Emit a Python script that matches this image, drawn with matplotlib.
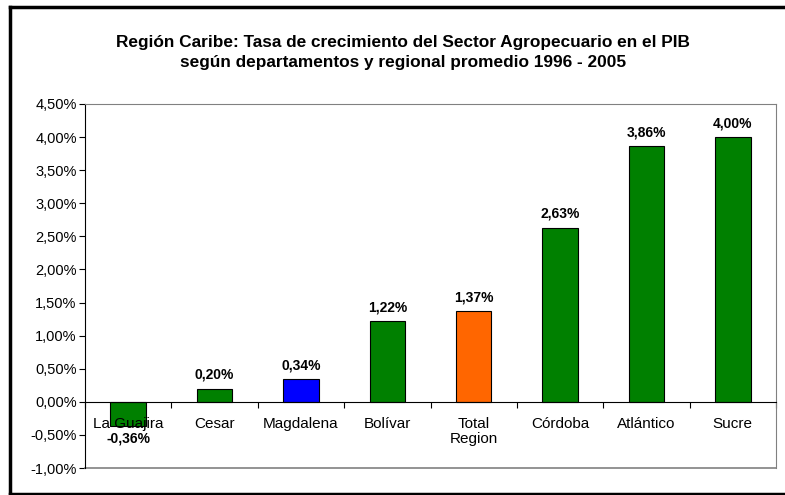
import matplotlib.pyplot as plt
import matplotlib.lines as mlines

plt.rcParams['font.family'] = ['Liberation Sans', 'DejaVu Sans']

# Datos del grafico
departamentos = ["La Guajira", "Cesar", "Magdalena", "Bolívar", "Total\nRegion",
                 "Córdoba", "Atlántico", "Sucre"]
crecimiento = [-0.36, 0.20, 0.34, 1.22, 1.37, 2.63, 3.86, 4.00]
colores = ["#008000", "#008000", "#0000FF", "#008000", "#FF6600",
           "#008000", "#008000", "#008000"]
ticks_y = [-1.0, -0.5, 0.0, 0.5, 1.0, 1.5, 2.0, 2.5, 3.0, 3.5, 4.0, 4.5]


def pct(v):
    return f"{v:.2f}%".replace(".", ",")


fig = plt.figure(figsize=(7.85, 4.95), dpi=100)
ax = fig.add_axes([85 / 785, 1 - 468 / 495, 691 / 785, 364 / 495])

x = list(range(len(departamentos)))
ax.bar(x, crecimiento, width=0.41, color=colores, edgecolor="black", linewidth=0.8, zorder=1)

for xi, v in zip(x, crecimiento):
    if v >= 0:
        ax.annotate(pct(v), (xi, v), xytext=(0, 5), textcoords="offset points",
                    ha="center", va="bottom", fontsize=10, fontweight="bold")
    else:
        ax.annotate(pct(v), (xi, v), xytext=(0, -4), textcoords="offset points",
                    ha="center", va="top", fontsize=10, fontweight="bold")

ax.set_xlim(-0.5, len(departamentos) - 0.5)
ax.set_ylim(-1.0, 4.5)
ax.set_yticks(ticks_y)
ax.set_yticklabels([pct(t) for t in ticks_y], fontsize=10.5)
ax.tick_params(axis="y", direction="out", length=4, width=0.8, pad=2)

# eje x en cero con marcas entre categorias
ax.spines["bottom"].set_position(("data", 0))
ax.spines["bottom"].set_color("black")
ax.set_xticks([i - 0.5 for i in range(len(departamentos) + 1)])
ax.set_xticklabels([])
ax.tick_params(axis="x", which="major", direction="out", length=4, width=0.8)
ax.set_xticks(x, minor=True)
ax.set_xticklabels(departamentos, minor=True, fontsize=11)
ax.tick_params(axis="x", which="minor", length=0, pad=11)
for lbl in ax.get_xticklabels(minor=True):
    lbl.set_linespacing(1.05)

for s in ["top", "right"]:
    ax.spines[s].set_color("#808080")
ax.axhline(-1.0, color="#808080", linewidth=1.2, clip_on=False)
ax.spines["left"].set_color("black")

fig.text(403 / 785, 1 - 52.5 / 495,
         "Región Caribe: Tasa de crecimiento del Sector Agropecuario en el PIB\n"
         "según departamentos y regional promedio 1996 - 2005",
         ha="center", va="center", fontsize=12.4, fontweight="bold", linespacing=1.45)

# marco negro del grafico
for xs, ys in [([9.5, 9.5], [6.5, 493.5]), ([9.5, 785], [6.5, 6.5]), ([9.5, 785], [493.5, 493.5])]:
    fig.add_artist(mlines.Line2D([v / 785 for v in xs], [1 - v / 495 for v in ys],
                                 color="black", linewidth=2.5, transform=fig.transFigure))

fig.savefig("out.png", dpi=100)
